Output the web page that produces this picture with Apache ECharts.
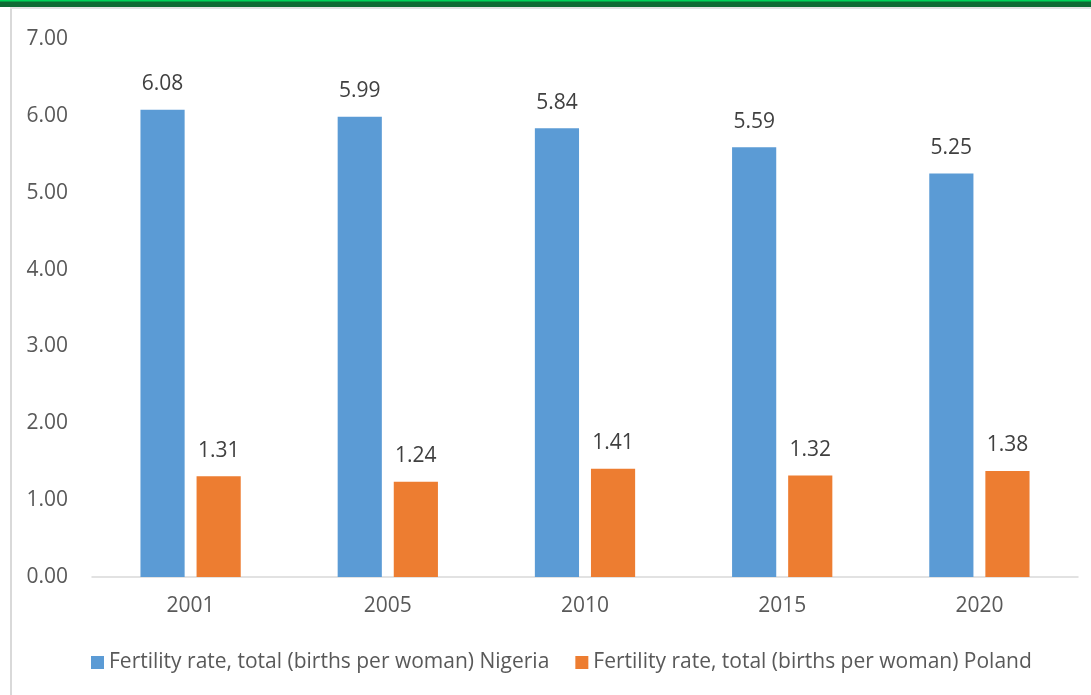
<!DOCTYPE html>
<html>
<head>
<meta charset="utf-8">
<style>
  html, body { margin: 0; padding: 0; background: #ffffff; }
  #chart { width: 1091px; height: 695px; }
</style>
<script src="https://cdn.jsdelivr.net/npm/echarts@6/dist/echarts.min.js"></script>
</head>
<body>
<div id="chart"></div>
<script>
// Fertility rate, total (births per woman)
const years = ['2001', '2005', '2010', '2015', '2020'];
const nigeria = [6.08, 5.99, 5.84, 5.59, 5.25];
const poland = [1.31, 1.24, 1.41, 1.32, 1.38];
const seriesNames = [
  'Fertility rate, total (births per woman) Nigeria',
  'Fertility rate, total (births per woman) Poland'
];

const FONT = '"Open Sans", "Noto Sans", sans-serif';
const TEXT = '#595959';
const SIZE = 21;

const chart = echarts.init(document.getElementById('chart'), null, { renderer: 'canvas' });

const labelOpt = {
  show: true,
  position: 'top',
  distance: 15,
  formatter: p => p.value.toFixed(2),
  color: '#404040',
  fontFamily: FONT,
  fontSize: SIZE
};

chart.setOption({
  backgroundColor: '#ffffff',
  animation: false,
  graphic: [
    // header band
    { type: 'rect', shape: { x: 0, y: 0, width: 1091, height: 7 }, style: { fill: '#0e6b34' }, z: 10 },
    { type: 'rect', shape: { x: 0, y: 0, width: 1091, height: 1.5 }, style: { fill: '#00d45a' }, z: 11 },
    { type: 'rect', shape: { x: 10, y: 7, width: 1081, height: 2 }, style: { fill: '#e3e3e3' }, z: 10 },
    // left frame edge
    { type: 'rect', shape: { x: 10, y: 9, width: 2, height: 686 }, style: { fill: '#d9d9d9' }, z: 10 }
  ],
  grid: { left: 92, right: 13, top: 39, bottom: 118, containLabel: false },
  legend: {
    bottom: 17,
    left: 86,
    itemWidth: 13,
    itemHeight: 13,
    itemGap: 26,
    icon: 'rect',
    textStyle: { color: TEXT, fontFamily: FONT, fontSize: SIZE },
    data: seriesNames
  },
  xAxis: {
    type: 'category',
    data: years,
    axisLine: { show: true, lineStyle: { color: '#d9d9d9', width: 1.5 } },
    axisTick: { show: false },
    axisLabel: { color: TEXT, fontFamily: FONT, fontSize: SIZE, margin: 19 }
  },
  yAxis: {
    type: 'value',
    min: 0,
    max: 7,
    interval: 1,
    axisLine: { show: false },
    axisTick: { show: false },
    splitLine: { show: false },
    axisLabel: {
      color: TEXT, fontFamily: FONT, fontSize: SIZE, margin: 24,
      formatter: v => v.toFixed(2)
    }
  },
  series: [
    {
      name: seriesNames[0],
      type: 'bar',
      data: nigeria,
      barWidth: '22.4%',
      barGap: '27%',
      itemStyle: { color: '#5b9bd5' },
      label: labelOpt
    },
    {
      name: seriesNames[1],
      type: 'bar',
      data: poland,
      barWidth: '22.4%',
      itemStyle: { color: '#ed7d31' },
      label: labelOpt
    }
  ]
});
</script>
</body>
</html>
